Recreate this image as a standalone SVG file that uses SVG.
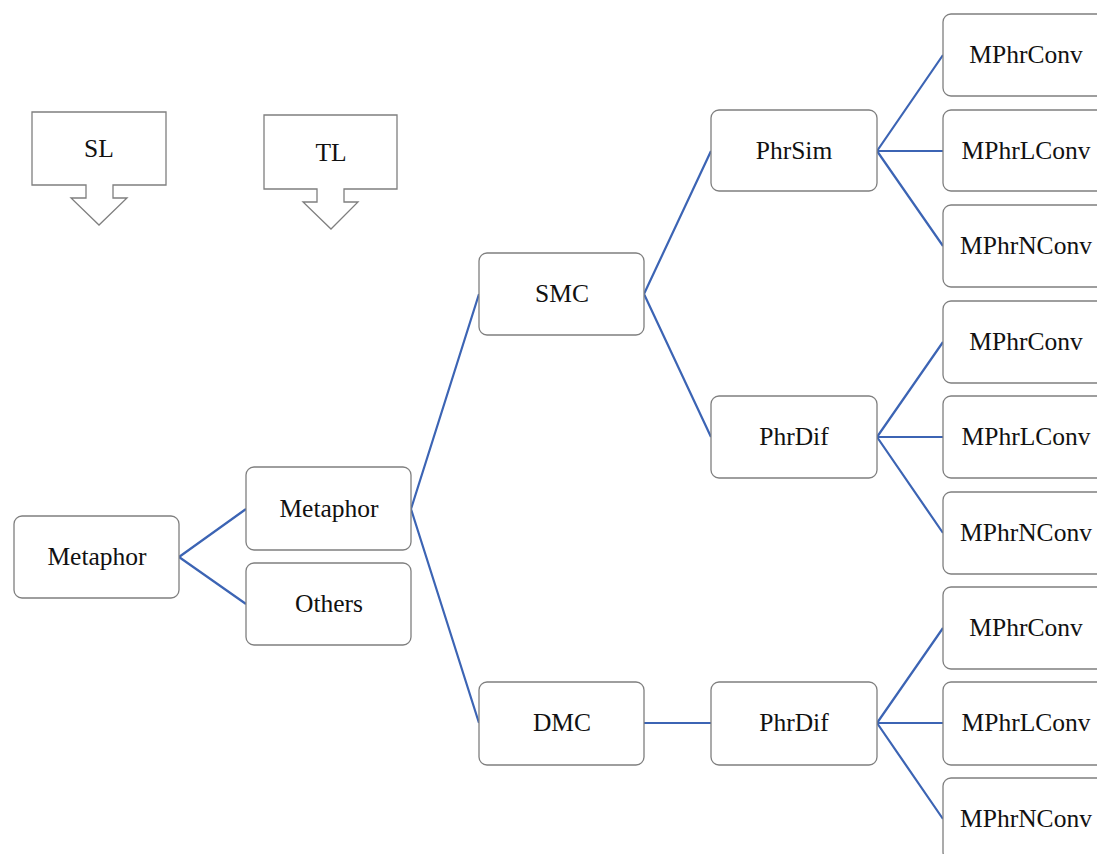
<svg xmlns="http://www.w3.org/2000/svg" width="1097" height="854" viewBox="0 0 1097 854">
<style>
.box{fill:#fff;stroke:#7f7f7f;stroke-width:1.3}
.call{fill:#fff;stroke:#7f7f7f;stroke-width:1.3;stroke-linejoin:miter}
.t{font-family:"Liberation Serif","Times New Roman",serif;font-size:25.5px;fill:#111;text-anchor:middle}
.c{stroke:#3c64b4;stroke-width:2.2;fill:none}
</style>
<rect width="1097" height="854" fill="#fff"/>
<g id="connectors">
<path class="c" d="M179 557L246 509M179 557L246 604"/>
<path class="c" d="M411 509L479 294M411 509L479 723"/>
<path class="c" d="M644 294L711 151M644 294L711 437M644 723L711 723"/>
<path class="c" d="M877 151L943 55M877 151L943 151M877 151L943 246"/>
<path class="c" d="M877 437L943 342M877 437L943 437M877 437L943 533"/>
<path class="c" d="M877 723L943 628M877 723L943 723M877 723L943 819"/>
</g>
<g id="SL"><path class="call" d="M32 112H166V185H113V198H127L99 225L71 198H86V185H32Z"/><text class="t" x="99" y="157">SL</text></g>
<g id="TL"><path class="call" d="M264 115H397V189H344V202H358L331 229L303 202H317V189H264Z"/><text class="t" x="331" y="161">TL</text></g>
<g id="n-metaphor-root"><rect class="box" x="14" y="516" width="165" height="82" rx="8"/><text class="t" x="97" y="565">Metaphor</text></g>
<g id="n-metaphor"><rect class="box" x="246" y="467" width="165" height="83" rx="8"/><text class="t" x="329" y="517">Metaphor</text></g>
<g id="n-others"><rect class="box" x="246" y="563" width="165" height="82" rx="8"/><text class="t" x="329" y="612">Others</text></g>
<g id="n-smc"><rect class="box" x="479" y="253" width="165" height="82" rx="8"/><text class="t" x="562" y="302">SMC</text></g>
<g id="n-dmc"><rect class="box" x="479" y="682" width="165" height="83" rx="8"/><text class="t" x="562" y="731">DMC</text></g>
<g id="n-phrsim"><rect class="box" x="711" y="110" width="166" height="81" rx="8"/><text class="t" x="794" y="159">PhrSim</text></g>
<g id="n-phrdif1"><rect class="box" x="711" y="396" width="166" height="82" rx="8"/><text class="t" x="794" y="445">PhrDif</text></g>
<g id="n-phrdif2"><rect class="box" x="711" y="682" width="166" height="83" rx="8"/><text class="t" x="794" y="731">PhrDif</text></g>
<g id="n-a1"><rect class="box" x="943" y="14" width="166" height="82" rx="8"/><text class="t" x="1026" y="63">MPhrConv</text></g>
<g id="n-a2"><rect class="box" x="943" y="110" width="166" height="81" rx="8"/><text class="t" x="1026" y="159">MPhrLConv</text></g>
<g id="n-a3"><rect class="box" x="943" y="205" width="166" height="82" rx="8"/><text class="t" x="1026" y="254">MPhrNConv</text></g>
<g id="n-b1"><rect class="box" x="943" y="301" width="166" height="82" rx="8"/><text class="t" x="1026" y="350">MPhrConv</text></g>
<g id="n-b2"><rect class="box" x="943" y="396" width="166" height="82" rx="8"/><text class="t" x="1026" y="445">MPhrLConv</text></g>
<g id="n-b3"><rect class="box" x="943" y="492" width="166" height="82" rx="8"/><text class="t" x="1026" y="541">MPhrNConv</text></g>
<g id="n-c1"><rect class="box" x="943" y="587" width="166" height="82" rx="8"/><text class="t" x="1026" y="636">MPhrConv</text></g>
<g id="n-c2"><rect class="box" x="943" y="682" width="166" height="83" rx="8"/><text class="t" x="1026" y="731">MPhrLConv</text></g>
<g id="n-c3"><rect class="box" x="943" y="778" width="166" height="82" rx="8"/><text class="t" x="1026" y="827">MPhrNConv</text></g>
</svg>
